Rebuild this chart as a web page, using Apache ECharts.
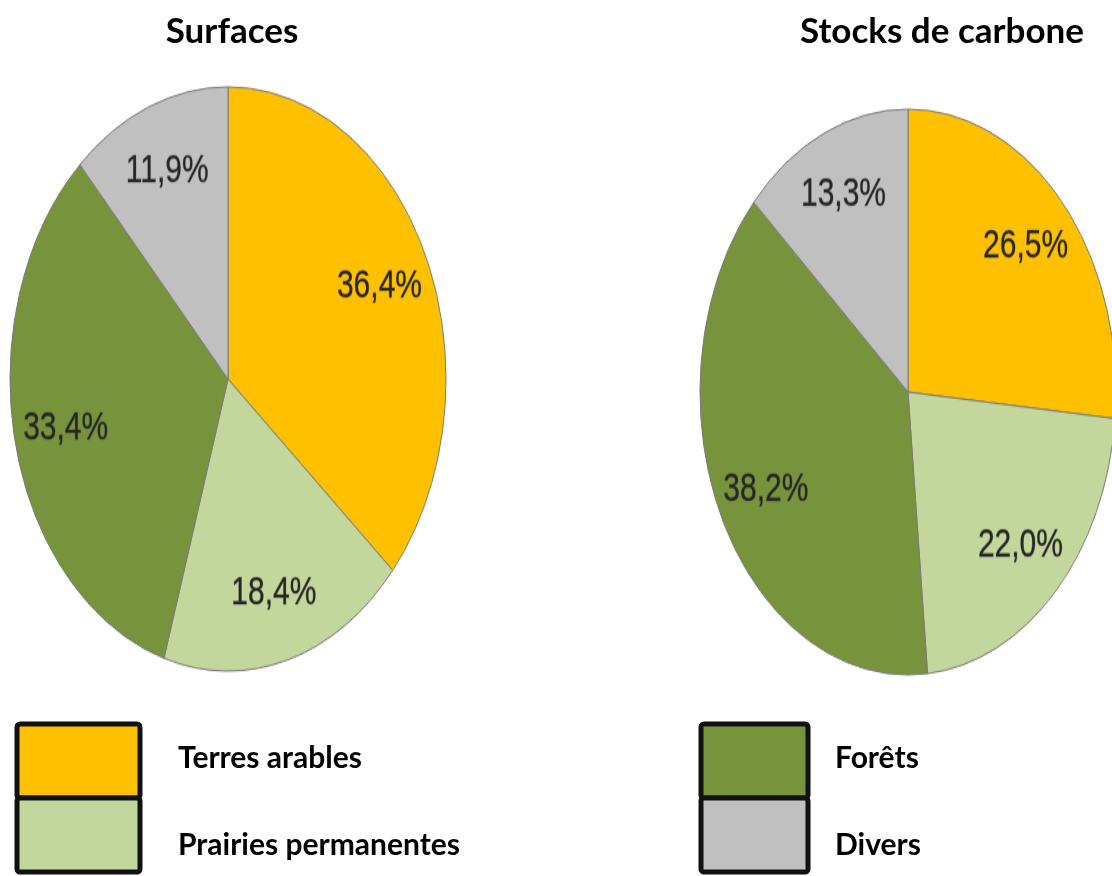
<!DOCTYPE html>
<html><head><meta charset="utf-8">
<script src="https://cdn.jsdelivr.net/npm/echarts@6/dist/echarts.min.js"></script>
<style>
html,body{margin:0;padding:0;width:1112px;height:876px;overflow:hidden;background:#fff}
#main{position:absolute;left:0;top:0;width:1112px;height:876px}
.pie{position:absolute;width:440px;height:440px;transform-origin:50% 50%}
#p1{left:8px;top:159px;transform:scaleY(1.34)}
#p2{left:688px;top:172px;transform:scaleY(1.36)}
</style></head><body>
<div id="main"></div><div id="p1" class="pie"></div><div id="p2" class="pie"></div>
<script>
const categories = ['Terres arables', 'Prairies permanentes', 'Forêts', 'Divers'];
const surfaces = [36.4, 18.4, 33.4, 11.9];
const carbone = [26.5, 22.0, 38.2, 13.3];
const titles = ['Surfaces', 'Stocks de carbone'];
const colors = ['#FFC000', '#C3D69B', '#77933C', '#C0C0C0'];

function fmt(p) { return p.value.toFixed(1).replace('.', ',') + '%'; }

function pieOption(values, R) {
  const data = categories.map((c, i) => ({ name: c, value: values[i], itemStyle: { color: colors[i] } }));
  const ghost = categories.map((c, i) => ({ name: c, value: values[i] }));
  return {
    animation: false,
    series: [
      { type: 'pie', radius: R, center: ['50%', '50%'], startAngle: 90, clockwise: true, silent: true,
        data: data, itemStyle: { borderColor: '#7a7a7a', borderWidth: 1 },
        label: { show: false }, labelLine: { show: false }, emphasis: { disabled: true } },
      { type: 'pie', radius: [R * 0.5, R], center: ['50%', '50%'], startAngle: 90, clockwise: true, silent: true,
        data: ghost, itemStyle: { color: 'rgba(0,0,0,0)', borderWidth: 0 },
        labelLine: { show: false }, emphasis: { disabled: true },
        label: { show: true, position: 'inside', formatter: fmt,
                 fontFamily: '"Liberation Sans Narrow", "Arial Narrow", sans-serif',
                 fontSize: 30, color: '#262626', textBorderColor: 'rgba(40,40,40,0.35)', textBorderWidth: 0.8 } }
    ]
  };
}

echarts.init(document.getElementById('p1')).setOption(pieOption(surfaces, 218));
echarts.init(document.getElementById('p2')).setOption(pieOption(carbone, 208));

const font = 'Lato, "Open Sans", sans-serif';
const graphic = [];
graphic.push({ type: 'text', x: 232, y: 32, style: { text: titles[0], font: 'bold 35px ' + font, fill: '#000', textAlign: 'center', textVerticalAlign: 'middle' } });
graphic.push({ type: 'text', x: 942, y: 32, style: { text: titles[1], font: 'bold 35px ' + font, fill: '#000', textAlign: 'center', textVerticalAlign: 'middle' } });

const legendCols = [ { x: 17, w: 123, tx: 178, items: [0, 1] }, { x: 701, w: 107, tx: 835, items: [2, 3] } ];
legendCols.forEach(col => {
  col.items.forEach((ci, k) => {
    const y = 724 + k * 74;
    graphic.push({ type: 'rect', shape: { x: col.x, y: y, width: col.w, height: 74, r: 3 },
      style: { fill: colors[ci], stroke: '#111', lineWidth: 5 } });
    graphic.push({ type: 'text', x: col.tx, y: y + 34 + k * 13, style: { text: categories[ci], font: 'bold 30px ' + font, fill: '#000', textVerticalAlign: 'middle' } });
  });
});

echarts.init(document.getElementById('main')).setOption({ animation: false, graphic: graphic });
</script>
</body></html>
